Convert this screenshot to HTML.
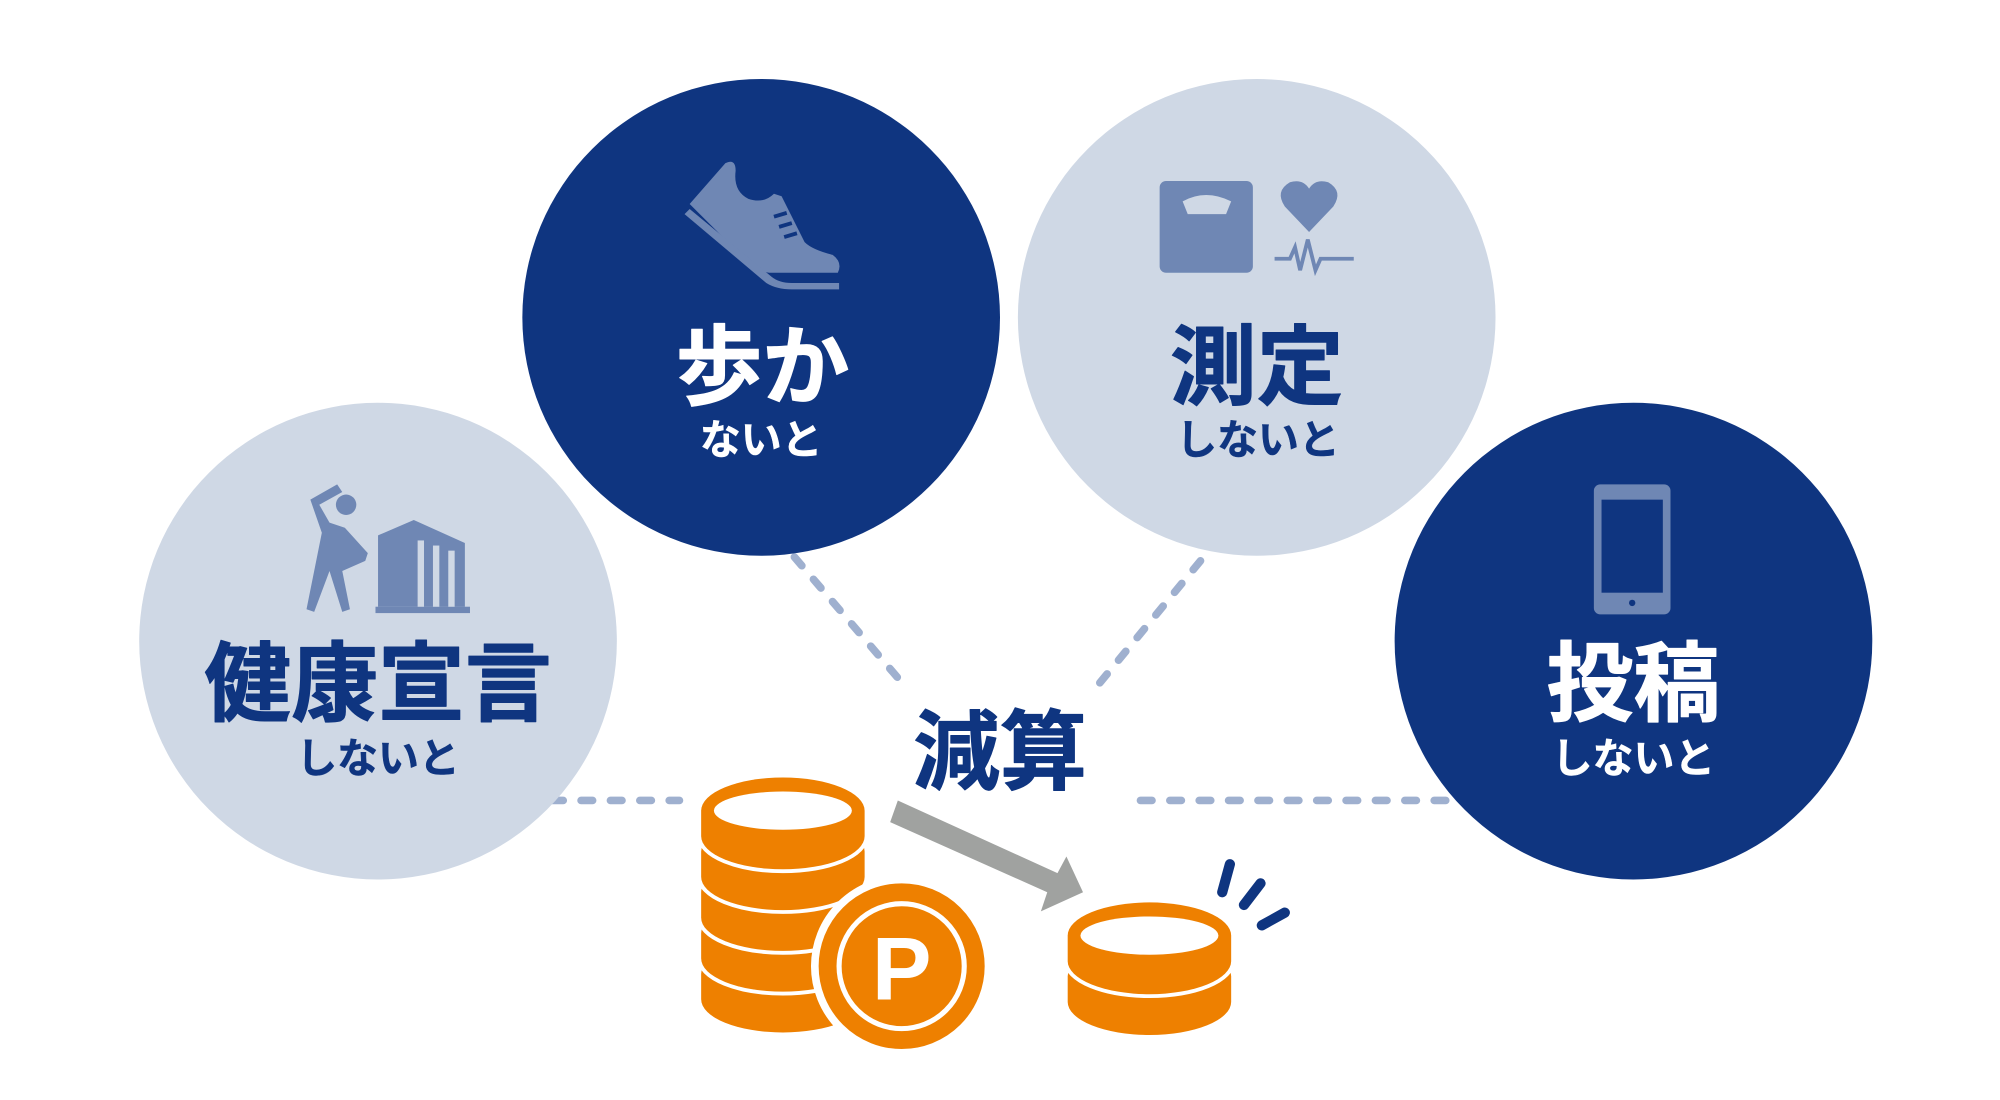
<!DOCTYPE html>
<html><head><meta charset="utf-8"><style>
html,body{margin:0;padding:0;background:#fff;}
svg{display:block;}
text{font-family:"Liberation Sans","Noto Sans CJK JP",sans-serif;font-weight:bold;text-anchor:middle;}
</style></head><body>
<svg width="2000" height="1100" viewBox="0 0 1566 863" preserveAspectRatio="none" xmlns="http://www.w3.org/2000/svg">
<g stroke="#9fb0cf" stroke-width="6" stroke-linecap="round" stroke-dasharray="9 14" fill="none">
<line x1="622" y1="437" x2="710" y2="540"/>
<line x1="940" y1="440" x2="856" y2="542"/>
<line x1="432" y1="628" x2="532" y2="628"/>
<line x1="893" y1="628" x2="1140" y2="628"/>
</g>
<circle cx="296" cy="503" r="187" fill="#cfd8e5"/>
<circle cx="596" cy="249" r="187" fill="#0f3580"/>
<circle cx="984" cy="249" r="187" fill="#cfd8e5"/>
<circle cx="1279" cy="503" r="187" fill="#0f3580"/>

<g fill="#6f87b4">
<path d="M540 160 L568 128 Q576 124 576 134 Q574 150 586 156 Q598 160 606 152 L612 154 L630 190 Q636 196 652 200 Q660 206 656 214 L604 214 Q596 214 586 206 Z"/>
<path d="M536 168 L600 222 Q608 227 620 227 L657 227 L657 222 L620 222 Q610 222 604 217 L540 164 Z"/>
</g>
<g stroke="#0f3580" stroke-width="3"><line x1="606" y1="170" x2="616" y2="167"/><line x1="610" y1="178" x2="620" y2="175"/><line x1="614" y1="186" x2="624" y2="183"/></g>

<rect x="908" y="142" width="73" height="72" rx="5" fill="#6f87b4"/>
<path d="M926 158 Q944 148 964 158 L960 168 L930 168 Z" fill="#cfd8e5"/>
<path d="M1025 182 L1006 162 Q998 150 1010 143 Q1020 140 1025 148 Q1030 140 1040 143 Q1052 150 1044 162 Z" fill="#6f87b4"/>
<polyline points="998,203 1010,203 1014,194 1018,212 1024,188 1030,212 1034,203 1060,203" fill="none" stroke="#6f87b4" stroke-width="3"/>

<rect x="1248" y="380" width="60" height="102" rx="5" fill="#6f87b4"/>
<rect x="1254" y="392" width="48" height="73" fill="#0f3580"/>
<circle cx="1278" cy="473" r="2.5" fill="#0f3580"/>

<g fill="#6f87b4">
<circle cx="271" cy="396" r="8"/>
<path d="M243 392 L264 380 L268 386 L250 396 L258 410 L270 414 L288 434 L286 440 L268 448 L274 478 L268 480 L258 448 L246 480 L240 478 L252 418 Z"/>
<path d="M296 420 L324 408 L364 426 L364 476 L296 476 Z"/>
<rect x="294" y="476" width="74" height="5"/>
</g>
<g fill="#cfd8e5"><rect x="327" y="424" width="5" height="52"/><rect x="339" y="428" width="5" height="48"/><rect x="351" y="432" width="5" height="44"/></g>

<g stroke-width="0.8" stroke-linejoin="round">
<text x="296" y="560" font-size="68" fill="#0f3580" stroke="#0f3580">健康宣言</text>
<text x="597" y="312" font-size="68" fill="#fff" stroke="#fff">歩か</text>
<text x="984" y="312" font-size="68" fill="#0f3580" stroke="#0f3580">測定</text>
<text x="1279" y="560" font-size="68" fill="#fff" stroke="#fff">投稿</text>
<text x="783" y="614" font-size="68" fill="#0f3580" stroke="#0f3580">減算</text>
</g>
<g stroke-width="0.4">
<text x="296" y="606" font-size="32" fill="#0f3580" stroke="#0f3580">しないと</text>
<text x="596" y="356" font-size="32" fill="#fff" stroke="#fff">ないと</text>
<text x="985" y="356" font-size="32" fill="#0f3580" stroke="#0f3580">しないと</text>
<text x="1279" y="606" font-size="32" fill="#fff" stroke="#fff">しないと</text>
</g>

<polygon points="703,628 828,685 835,672 848,700 815,715 820,700 697,645" fill="#a0a2a0"/>

<g fill="#ee8000">
<path d="M549 764 L549 784 A64 26 0 0 0 677 784 L677 764 A64 26 0 0 0 549 764 Z"/>
<path d="M549 752 A64 26 0 0 0 677 752" fill="none" stroke="#fff" stroke-width="6"/>
<path d="M549 732 L549 752 A64 26 0 0 0 677 752 L677 732 A64 26 0 0 0 549 732 Z"/>
<path d="M549 720 A64 26 0 0 0 677 720" fill="none" stroke="#fff" stroke-width="6"/>
<path d="M549 700 L549 720 A64 26 0 0 0 677 720 L677 700 A64 26 0 0 0 549 700 Z"/>
<path d="M549 688 A64 26 0 0 0 677 688" fill="none" stroke="#fff" stroke-width="6"/>
<path d="M549 668 L549 688 A64 26 0 0 0 677 688 L677 668 A64 26 0 0 0 549 668 Z"/>
<path d="M549 656 A64 26 0 0 0 677 656" fill="none" stroke="#fff" stroke-width="6"/>
<path d="M549 636 L549 656 A64 26 0 0 0 677 656 L677 636 A64 26 0 0 0 549 636 Z"/>
</g>
<ellipse cx="613" cy="636" rx="54" ry="15" fill="#fff"/>
<circle cx="706" cy="758" r="68" fill="#ee8000" stroke="#fff" stroke-width="6"/>
<circle cx="706" cy="758" r="49" fill="none" stroke="#fff" stroke-width="4"/>
<text x="706" y="784" font-size="70" fill="#fff">P</text>

<g fill="#ee8000">
<path d="M836 766 L836 786 A64 26 0 0 0 964 786 L964 766 A64 26 0 0 0 836 766 Z"/>
<path d="M836 754 A64 26 0 0 0 964 754" fill="none" stroke="#fff" stroke-width="6"/>
<path d="M836 734 L836 754 A64 26 0 0 0 964 754 L964 734 A64 26 0 0 0 836 734 Z"/>
</g>
<ellipse cx="900" cy="734" rx="54" ry="15" fill="#fff"/>
<g stroke="#0f3580" stroke-width="8" stroke-linecap="round">
<line x1="963" y1="678" x2="957" y2="700"/>
<line x1="987" y1="693" x2="974" y2="710"/>
<line x1="1006" y1="716" x2="988" y2="726"/>
</g>
</svg>
</body></html>
